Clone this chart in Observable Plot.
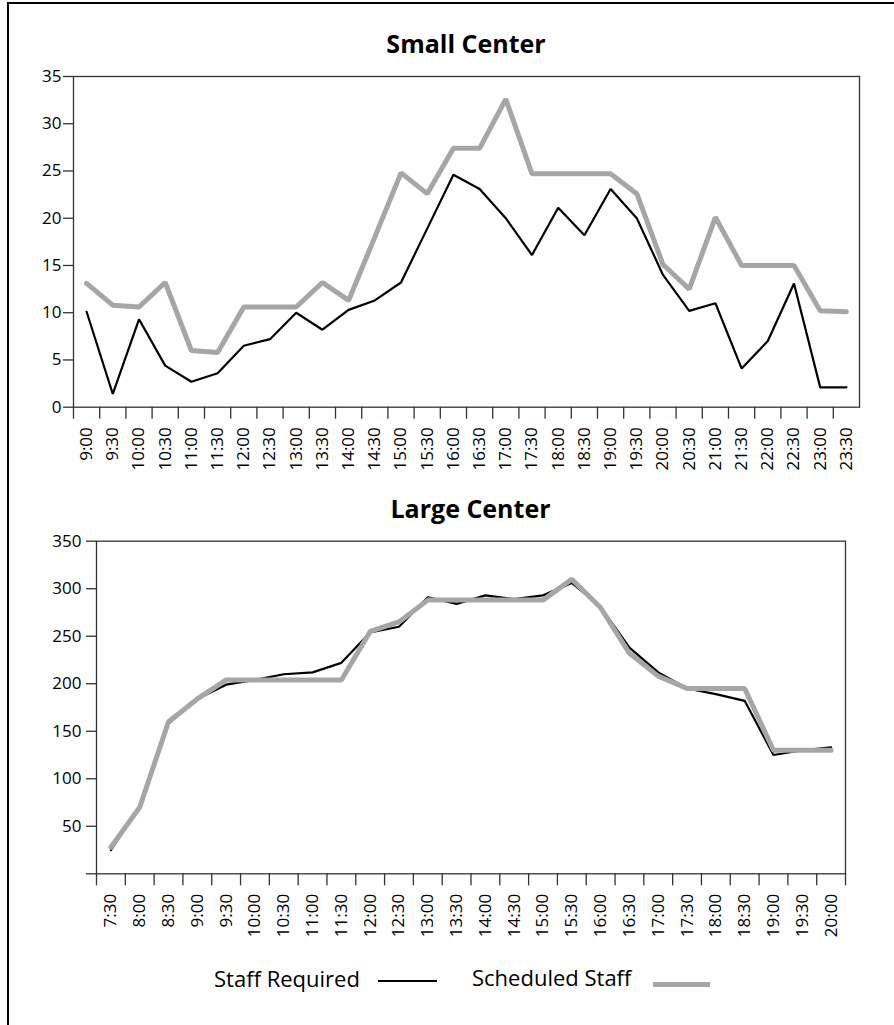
<!DOCTYPE html>
<html>
<head>
<meta charset="utf-8">
<script src="https://cdn.jsdelivr.net/npm/d3@7"></script>
<script src="https://cdn.jsdelivr.net/npm/@observablehq/plot@0.6"></script>
<style>
  html, body { margin: 0; padding: 0; background: #fff; overflow: hidden; }
  body { width: 894px; height: 1025px; position: relative; font-family: "Open Sans", sans-serif; color: #000; }
  #frame { position: absolute; left: 7px; top: 2px; width: 1000px; height: 1100px; border-left: 2px solid #000; border-top: 2px solid #000; box-sizing: border-box; }
  .title { position: absolute; font-family: "Open Sans", sans-serif; font-weight: 700; font-size: 25px; line-height: 25px; text-align: center; white-space: nowrap; }
  .chart { position: absolute; left: 0; }
  .leg { position: absolute; font-family: "Open Sans", sans-serif; font-size: 22px; line-height: 22px; white-space: nowrap; }
  .sw { position: absolute; }
</style>
</head>
<body>
<div id="frame"></div>
<div class="title" style="left:73px; width:786px; top:31px;">Small Center</div>
<div class="chart" id="c1" style="top:60px;"></div>
<div class="title" style="left:96px; width:749px; top:496px;">Large Center</div>
<div class="chart" id="c2" style="top:525px;"></div>
<div class="leg" style="left:214px; top:967px;">Staff Required</div>
<div class="sw" style="left:378px; top:980px; width:59px; height:2px; background:#000;"></div>
<div class="leg" style="left:472px; top:966px;">Scheduled Staff</div>
<div class="sw" style="left:653px; top:982px; width:57px; height:5px; background:#a6a6a6;"></div>
<script>
// ---- Data ----
const smallTimes = ["9:00","9:30","10:00","10:30","11:00","11:30","12:00","12:30","13:00","13:30",
  "14:00","14:30","15:00","15:30","16:00","16:30","17:00","17:30","18:00","18:30",
  "19:00","19:30","20:00","20:30","21:00","21:30","22:00","22:30","23:00","23:30"];
const smallRequired = [10.1,1.4,9.3,4.4,2.7,3.6,6.5,7.2,10.0,8.2,
  10.3,11.3,13.2,18.9,24.6,23.1,20.0,16.1,21.1,18.2,
  23.1,20.0,14.0,10.2,11.0,4.1,7.0,13.1,2.1,2.1];
const smallScheduled = [13.1,10.8,10.6,13.2,6.0,5.8,10.6,10.6,10.6,13.2,
  11.3,18.0,24.8,22.6,27.4,27.4,32.6,24.7,24.7,24.7,
  24.7,22.6,15.1,12.5,20.1,15.0,15.0,15.0,10.2,10.1];
const smallYTicks = [0,5,10,15,20,25,30,35];

const largeTimes = ["7:30","8:00","8:30","9:00","9:30","10:00","10:30","11:00","11:30","12:00",
  "12:30","13:00","13:30","14:00","14:30","15:00","15:30","16:00","16:30","17:00",
  "17:30","18:00","18:30","19:00","19:30","20:00"];
const largeRequired = [25,71,158,184,199,204,210,212,222,254,
  260,291,284,293,289,293,306,281,238,212,
  195,189,182,125,130,133];
const largeScheduled = [28,70,160,184,204,204,204,204,204,255,
  265,288,288,288,288,288,310,280,232,208,
  195,195,195,130,130,130];
const largeYTicks = [0,50,100,150,200,250,300,350];

const GRAY = "#a6a6a6";
const AXIS = "#333";
const FS = 17;

function chart(times, req, sch, o) {
  const n = times.length;
  const rows = times.map((t, i) => ({pos: i + 0.5, t, req: req[i], sch: sch[i]}));
  const bounds = d3.range(0, o.lastTick ? n + 1 : n);
  const centers = d3.range(n).map(i => i + 0.5);
  return Plot.plot({
    width: 894,
    height: o.height,
    marginLeft: o.ml, marginRight: o.mr, marginTop: o.mt, marginBottom: o.mb,
    style: {fontFamily: "'Open Sans', sans-serif", fontSize: FS + "px", color: "#000", background: "transparent", overflow: "visible"},
    x: {type: "linear", domain: [0, n]},
    y: {domain: [0, o.ymax]},
    marks: [
      Plot.frame({stroke: AXIS, strokeWidth: 1.3}),
      Plot.axisY({ticks: o.yTicks, tickSize: 10, tickPadding: o.ypad, stroke: AXIS, strokeWidth: 1.3, label: null,
        fontSize: FS, fill: "#000",
        tickFormat: d => (o.hideZero && d === 0) ? "" : String(d)}),
      Plot.axisX({ticks: bounds, tickSize: 12, tickFormat: () => "", stroke: AXIS, strokeWidth: 1.3, label: null}),
      Plot.axisX({ticks: centers, tickSize: 0, tickPadding: 20, tickRotate: -90, label: null,
        fontSize: FS, fill: "#000",
        tickFormat: v => times[Math.floor(v)]}),
      Plot.line(rows, {x: "pos", y: "req", stroke: "#000", strokeWidth: 2.2, strokeLinejoin: "miter"}),
      Plot.line(rows, {x: "pos", y: "sch", stroke: GRAY, strokeWidth: 5, strokeLinejoin: "miter"})
    ]
  });
}

document.getElementById("c1").append(chart(smallTimes, smallRequired, smallScheduled,
  {height: 420, ml: 73, mr: 35, mt: 16, mb: 73.3, ymax: 35, yTicks: smallYTicks, ypad: 2, hideZero: false, lastTick: false}));
document.getElementById("c2").append(chart(largeTimes, largeRequired, largeScheduled,
  {height: 425, ml: 96, mr: 49, mt: 15.7, mb: 76.7, ymax: 350, yTicks: largeYTicks, ypad: 5, hideZero: true, lastTick: true}));
</script>
</body>
</html>
